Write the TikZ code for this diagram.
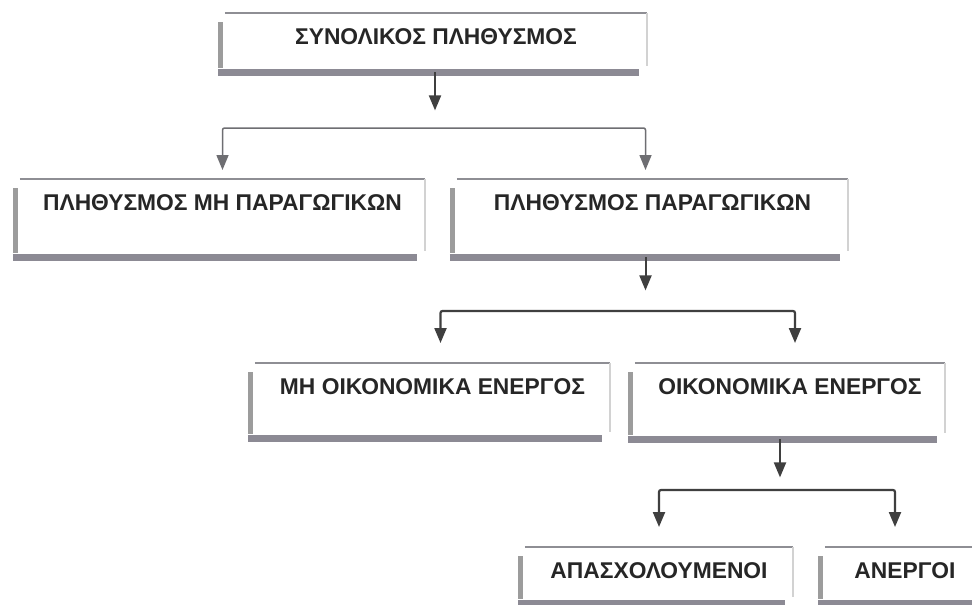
\documentclass[tikz,border=0pt]{standalone}
\usepackage{fontspec}
\setmainfont{Liberation Sans}
\usepackage{xcolor}
\definecolor{census-text}{HTML}{262626}
\definecolor{census-top}{HTML}{8E8E94}
\definecolor{census-bar}{HTML}{8C8A94}
\definecolor{census-side}{HTML}{9C9C9C}
\definecolor{census-edge}{HTML}{D2D2D2}
\definecolor{census-line}{HTML}{3F3F3F}
\definecolor{census-thin}{HTML}{6E6E72}
\usetikzlibrary{arrows.meta}

\tikzset{
    pbox/.style={anchor=north, inner sep=0pt, text height=31pt, text=census-text, font=\fontsize{22.8}{27}\selectfont\bfseries},
    arr/.style={draw=census-line, line width=2pt, -{Triangle[width=12pt,length=15pt]}},
    fork/.style={draw=census-line, line width=2.2pt, rounded corners=2pt, {Triangle[width=12pt,length=15pt]}-{Triangle[width=12pt,length=15pt]}},
}

\begin{document}
\begin{tikzpicture}[x=1pt, y=-1pt]

    % Background
    \useasboundingbox (0, 0) rectangle (972, 605);
    \clip (0, 0) rectangle (972, 605);
    \fill[white] (0, 0) rectangle (972, 605);

    % Boxes
    \node[pbox, minimum width=422pt, text depth=28pt] (total) at (436, 13) {ΣΥΝΟΛΙΚΟΣ ΠΛΗΘΥΣΜΟΣ};

    \node[pbox, minimum width=405pt, text depth=47pt] (nonprod) at (222.5, 179) {ΠΛΗΘΥΣΜΟΣ ΜΗ ΠΑΡΑΓΩΓΙΚΩΝ};
    \node[pbox, minimum width=391pt, text depth=47pt] (prod) at (652.5, 179) {ΠΛΗΘΥΣΜΟΣ ΠΑΡΑΓΩΓΙΚΩΝ};

    \node[pbox, minimum width=355pt, text depth=44pt] (inact) at (432.5, 363) {ΜΗ ΟΙΚΟΝΟΜΙΚΑ ΕΝΕΡΓΟΣ};
    \node[pbox, minimum width=310pt, text depth=45pt] (act) at (790, 363) {ΟΙΚΟΝΟΜΙΚΑ ΕΝΕΡΓΟΣ};

    \node[pbox, minimum width=268pt, text depth=25pt] (empl) at (659, 547) {ΑΠΑΣΧΟΛΟΥΜΕΝΟΙ};
    \node[pbox, minimum width=160pt, text depth=25pt] (unempl) at (905, 547) {\makebox[136pt]{ΑΝΕΡΓΟΙ}\hspace{24pt}};

    % Frames
    \foreach \n in {total, nonprod, prod, inact, act, empl, unempl} {
        \draw[census-top, line width=1.6pt] (\n.north west) -- (\n.north east);
        \draw[census-edge, line width=1.5pt] (\n.north east) -- ([yshift=6pt]\n.south east);
        \draw[census-side, line width=5pt] ([shift={(-4pt,-9pt)}]\n.north west) -- ([shift={(-4pt,4pt)}]\n.south west);
        \draw[census-bar, line width=7pt] ([xshift=-7pt]\n.south west) -- ([xshift=-8pt]\n.south east);
    }

    % Total population
    \coordinate (fork1) at (435, 128);
    \draw[arr] ([xshift=-1pt]total.south) -- ++(0, 38);
    \draw[fork, draw=census-thin, line width=1.5pt] ([yshift=9pt]nonprod.north) |- (fork1) -| ([shift={(-7pt,9pt)}]prod.north);

    % Productive population
    \coordinate (fork2) at (645, 311);
    \draw[arr] ([xshift=-7pt]prod.south) -- ++(0, 33);
    \draw[fork] ([shift={(8pt,20pt)}]inact.north) |- (fork2) -| ([shift={(5pt,20pt)}]act.north);

    % Economically active
    \coordinate (fork3) at (780, 490);
    \draw[arr] ([xshift=-10pt]act.south) -- ++(0, 38);
    \draw[fork] ([yshift=20pt]empl.north) |- (fork3) -| ([shift={(-10pt,20pt)}]unempl.north);

\end{tikzpicture}
\end{document}
